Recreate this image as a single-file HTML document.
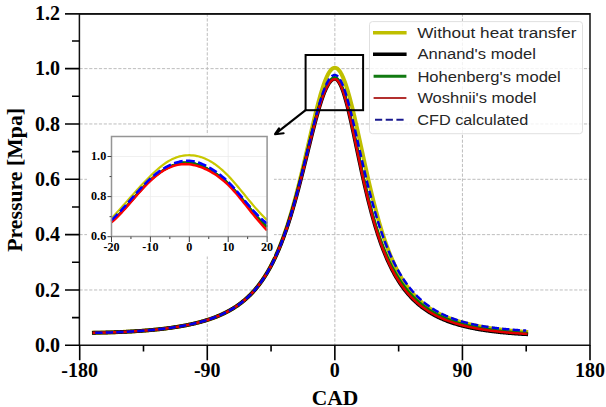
<!DOCTYPE html><html><head><meta charset="utf-8"><style>html,body{margin:0;padding:0;background:#fff;}svg{display:block}</style></head><body>
<svg width="606" height="407" viewBox="0 0 606 407">
<rect width="606" height="407" fill="#fff"/>
<path d="M79.5,289.97H590 M79.5,234.63H590 M79.5,179.30H590 M79.5,123.96H590 M79.5,68.63H590 M207.28,13.5V345.3 M334.85,13.5V345.3 M462.43,13.5V345.3" stroke="#bdbdbd" stroke-width="1" stroke-dasharray="3.2,1.65" fill="none"/>
<g fill="none" stroke-linejoin="round" stroke-linecap="square">
<path d="M93.88,332.74 L94.58,332.73 L95.29,332.72 L96.00,332.71 L96.71,332.70 L97.42,332.69 L98.13,332.67 L98.84,332.66 L99.55,332.65 L100.25,332.63 L100.96,332.62 L101.67,332.60 L102.38,332.59 L103.09,332.57 L103.80,332.56 L104.51,332.54 L105.22,332.52 L105.92,332.50 L106.63,332.48 L107.34,332.47 L108.05,332.45 L108.76,332.43 L109.47,332.41 L110.18,332.38 L110.89,332.36 L111.59,332.34 L112.30,332.32 L113.01,332.29 L113.72,332.27 L114.43,332.24 L115.14,332.22 L115.85,332.19 L116.56,332.17 L117.26,332.14 L117.97,332.11 L118.68,332.08 L119.39,332.06 L120.10,332.03 L120.81,332.00 L121.52,331.97 L122.23,331.93 L122.93,331.90 L123.64,331.87 L124.35,331.84 L125.06,331.80 L125.77,331.77 L126.48,331.73 L127.19,331.70 L127.90,331.66 L128.60,331.62 L129.31,331.59 L130.02,331.55 L130.73,331.51 L131.44,331.47 L132.15,331.43 L132.86,331.38 L133.57,331.34 L134.27,331.30 L134.98,331.26 L135.69,331.21 L136.40,331.17 L137.11,331.12 L137.82,331.07 L138.53,331.03 L139.24,330.98 L139.94,330.93 L140.65,330.88 L141.36,330.83 L142.07,330.77 L142.78,330.72 L143.49,330.67 L144.20,330.61 L144.91,330.56 L145.61,330.50 L146.32,330.45 L147.03,330.39 L147.74,330.33 L148.45,330.27 L149.16,330.21 L149.87,330.15 L150.58,330.08 L151.28,330.02 L151.99,329.95 L152.70,329.89 L153.41,329.82 L154.12,329.75 L154.83,329.68 L155.54,329.61 L156.25,329.54 L156.95,329.47 L157.66,329.40 L158.37,329.32 L159.08,329.25 L159.79,329.17 L160.50,329.09 L161.21,329.01 L161.92,328.93 L162.62,328.85 L163.33,328.77 L164.04,328.68 L164.75,328.59 L165.46,328.51 L166.17,328.42 L166.88,328.33 L167.59,328.24 L168.29,328.14 L169.00,328.05 L169.71,327.96 L170.42,327.86 L171.13,327.76 L171.84,327.66 L172.55,327.56 L173.26,327.45 L173.96,327.35 L174.67,327.24 L175.38,327.13 L176.09,327.02 L176.80,326.91 L177.51,326.80 L178.22,326.68 L178.93,326.57 L179.63,326.45 L180.34,326.33 L181.05,326.21 L181.76,326.08 L182.47,325.95 L183.18,325.83 L183.89,325.70 L184.60,325.56 L185.30,325.43 L186.01,325.29 L186.72,325.15 L187.43,325.01 L188.14,324.87 L188.85,324.72 L189.56,324.57 L190.27,324.42 L190.97,324.27 L191.68,324.11 L192.39,323.96 L193.10,323.80 L193.81,323.63 L194.52,323.47 L195.23,323.30 L195.94,323.13 L196.64,322.95 L197.35,322.78 L198.06,322.60 L198.77,322.41 L199.48,322.23 L200.19,322.04 L200.90,321.85 L201.61,321.65 L202.31,321.45 L203.02,321.25 L203.73,321.05 L204.44,320.84 L205.15,320.63 L205.86,320.41 L206.57,320.19 L207.28,319.97 L207.98,319.74 L208.69,319.51 L209.40,319.27 L210.11,319.03 L210.82,318.79 L211.53,318.54 L212.24,318.29 L212.95,318.04 L213.65,317.77 L214.36,317.51 L215.07,317.24 L215.78,316.96 L216.49,316.68 L217.20,316.40 L217.91,316.11 L218.62,315.81 L219.32,315.51 L220.03,315.21 L220.74,314.89 L221.45,314.58 L222.16,314.25 L222.87,313.92 L223.58,313.59 L224.29,313.25 L224.99,312.90 L225.70,312.54 L226.41,312.18 L227.12,311.82 L227.83,311.44 L228.54,311.06 L229.25,310.67 L229.96,310.27 L230.66,309.87 L231.37,309.45 L232.08,309.03 L232.79,308.60 L233.50,308.17 L234.21,307.72 L234.92,307.27 L235.63,306.80 L236.33,306.33 L237.04,305.85 L237.75,305.36 L238.46,304.86 L239.17,304.34 L239.88,303.82 L240.59,303.29 L241.30,302.74 L242.00,302.19 L242.71,301.62 L243.42,301.05 L244.13,300.46 L244.84,299.85 L245.55,299.24 L246.26,298.61 L246.97,297.97 L247.67,297.32 L248.38,296.65 L249.09,295.97 L249.80,295.27 L250.51,294.56 L251.22,293.83 L251.93,293.09 L252.64,292.33 L253.34,291.55 L254.05,290.76 L254.76,289.95 L255.47,289.13 L256.18,288.28 L256.89,287.42 L257.60,286.54 L258.31,285.63 L259.01,284.71 L259.72,283.77 L260.43,282.81 L261.14,281.82 L261.85,280.82 L262.56,279.79 L263.27,278.74 L263.98,277.66 L264.68,276.57 L265.39,275.44 L266.10,274.30 L266.81,273.12 L267.52,271.92 L268.23,270.69 L268.94,269.44 L269.65,268.16 L270.35,266.85 L271.06,265.51 L271.77,264.14 L272.48,262.74 L273.19,261.31 L273.90,259.84 L274.61,258.35 L275.32,256.82 L276.02,255.26 L276.73,253.66 L277.44,252.03 L278.15,250.37 L278.86,248.66 L279.57,246.93 L280.28,245.15 L280.99,243.34 L281.69,241.49 L282.40,239.60 L283.11,237.67 L283.82,235.70 L284.53,233.69 L285.24,231.65 L285.95,229.56 L286.66,227.43 L287.36,225.26 L288.07,223.04 L288.78,220.79 L289.49,218.50 L290.20,216.16 L290.91,213.78 L291.62,211.36 L292.33,208.90 L293.03,206.40 L293.74,203.85 L294.45,201.27 L295.16,198.65 L295.87,195.98 L296.58,193.28 L297.29,190.55 L298.00,187.77 L298.70,184.97 L299.41,182.12 L300.12,179.25 L300.83,176.34 L301.54,173.41 L302.25,170.45 L302.96,167.46 L303.67,164.46 L304.37,161.43 L305.08,158.38 L305.79,155.32 L306.50,152.25 L307.21,149.16 L307.92,146.08 L308.63,142.99 L309.34,139.90 L310.04,136.81 L310.75,133.74 L311.46,130.67 L312.17,127.63 L312.88,124.61 L313.59,121.61 L314.30,118.65 L315.00,115.72 L315.71,112.83 L316.42,109.98 L317.13,107.19 L317.84,104.45 L318.55,101.78 L319.26,99.17 L319.97,96.63 L320.68,94.17 L321.38,91.79 L322.09,89.49 L322.80,87.29 L323.51,85.18 L324.22,83.17 L324.93,81.27 L325.64,79.48 L326.35,77.81 L327.05,76.25 L327.76,74.82 L328.47,73.51 L329.18,72.32 L329.89,71.28 L330.60,70.36 L331.31,69.58 L332.02,68.94 L332.72,68.44 L333.43,68.09 L334.14,67.87 L334.85,67.80 L335.56,67.87 L336.27,68.10 L336.98,68.46 L337.69,68.98 L338.39,69.64 L339.10,70.44 L339.81,71.39 L340.52,72.47 L341.23,73.69 L341.94,75.05 L342.65,76.54 L343.36,78.15 L344.06,79.89 L344.77,81.75 L345.48,83.73 L346.19,85.82 L346.90,88.01 L347.61,90.31 L348.32,92.70 L349.03,95.19 L349.73,97.77 L350.44,100.43 L351.15,103.17 L351.86,105.97 L352.57,108.85 L353.28,111.79 L353.99,114.78 L354.70,117.82 L355.40,120.91 L356.11,124.04 L356.82,127.20 L357.53,130.40 L358.24,133.61 L358.95,136.85 L359.66,140.10 L360.37,143.37 L361.07,146.64 L361.78,149.91 L362.49,153.18 L363.20,156.44 L363.91,159.69 L364.62,162.93 L365.33,166.15 L366.04,169.35 L366.74,172.53 L367.45,175.69 L368.16,178.81 L368.87,181.90 L369.58,184.96 L370.29,187.99 L371.00,190.98 L371.71,193.93 L372.41,196.84 L373.12,199.70 L373.83,202.53 L374.54,205.31 L375.25,208.04 L375.96,210.73 L376.67,213.38 L377.38,215.97 L378.08,218.52 L378.79,221.03 L379.50,223.48 L380.21,225.89 L380.92,228.25 L381.63,230.56 L382.34,232.82 L383.05,235.04 L383.75,237.21 L384.46,239.33 L385.17,241.41 L385.88,243.44 L386.59,245.42 L387.30,247.36 L388.01,249.26 L388.72,251.12 L389.42,252.93 L390.13,254.70 L390.84,256.43 L391.55,258.11 L392.26,259.76 L392.97,261.37 L393.68,262.94 L394.38,264.47 L395.09,265.97 L395.80,267.43 L396.51,268.85 L397.22,270.24 L397.93,271.60 L398.64,272.92 L399.35,274.22 L400.06,275.48 L400.76,276.71 L401.47,277.91 L402.18,279.08 L402.89,280.22 L403.60,281.33 L404.31,282.42 L405.02,283.48 L405.73,284.52 L406.43,285.53 L407.14,286.51 L407.85,287.48 L408.56,288.42 L409.27,289.33 L409.98,290.23 L410.69,291.10 L411.40,291.95 L412.10,292.79 L412.81,293.60 L413.52,294.39 L414.23,295.17 L414.94,295.93 L415.65,296.67 L416.36,297.39 L417.07,298.09 L417.77,298.78 L418.48,299.46 L419.19,300.11 L419.90,300.76 L420.61,301.39 L421.32,302.00 L422.03,302.60 L422.74,303.19 L423.44,303.76 L424.15,304.33 L424.86,304.88 L425.57,305.41 L426.28,305.94 L426.99,306.45 L427.70,306.96 L428.41,307.45 L429.11,307.93 L429.82,308.40 L430.53,308.86 L431.24,309.32 L431.95,309.76 L432.66,310.19 L433.37,310.62 L434.08,311.03 L434.78,311.44 L435.49,311.84 L436.20,312.23 L436.91,312.61 L437.62,312.99 L438.33,313.36 L439.04,313.72 L439.75,314.07 L440.45,314.42 L441.16,314.76 L441.87,315.09 L442.58,315.42 L443.29,315.74 L444.00,316.05 L444.71,316.36 L445.42,316.66 L446.12,316.96 L446.83,317.25 L447.54,317.54 L448.25,317.82 L448.96,318.09 L449.67,318.36 L450.38,318.63 L451.09,318.89 L451.79,319.15 L452.50,319.40 L453.21,319.65 L453.92,319.89 L454.63,320.13 L455.34,320.36 L456.05,320.59 L456.75,320.82 L457.46,321.04 L458.17,321.26 L458.88,321.48 L459.59,321.69 L460.30,321.89 L461.01,322.10 L461.72,322.30 L462.43,322.50 L463.13,322.69 L463.84,322.88 L464.55,323.07 L465.26,323.25 L465.97,323.43 L466.68,323.61 L467.39,323.79 L468.10,323.96 L468.80,324.13 L469.51,324.30 L470.22,324.46 L470.93,324.63 L471.64,324.79 L472.35,324.94 L473.06,325.10 L473.76,325.25 L474.47,325.40 L475.18,325.55 L475.89,325.69 L476.60,325.83 L477.31,325.97 L478.02,326.11 L478.73,326.25 L479.44,326.38 L480.14,326.51 L480.85,326.64 L481.56,326.77 L482.27,326.90 L482.98,327.02 L483.69,327.15 L484.40,327.27 L485.11,327.38 L485.81,327.50 L486.52,327.62 L487.23,327.73 L487.94,327.84 L488.65,327.95 L489.36,328.06 L490.07,328.17 L490.78,328.27 L491.48,328.38 L492.19,328.48 L492.90,328.58 L493.61,328.68 L494.32,328.78 L495.03,328.87 L495.74,328.97 L496.45,329.06 L497.15,329.15 L497.86,329.24 L498.57,329.33 L499.28,329.42 L499.99,329.51 L500.70,329.59 L501.41,329.68 L502.12,329.76 L502.82,329.84 L503.53,329.92 L504.24,330.00 L504.95,330.08 L505.66,330.16 L506.37,330.23 L507.08,330.31 L507.79,330.38 L508.49,330.45 L509.20,330.53 L509.91,330.60 L510.62,330.67 L511.33,330.73 L512.04,330.80 L512.75,330.87 L513.46,330.93 L514.16,331.00 L514.87,331.06 L515.58,331.12 L516.29,331.19 L517.00,331.25 L517.71,331.31 L518.42,331.37 L519.12,331.42 L519.83,331.48 L520.54,331.54 L521.25,331.59 L521.96,331.65 L522.67,331.70 L523.38,331.75 L524.09,331.81 L524.80,331.86 L525.50,331.91 L526.21,331.96" stroke="#bfbf00" stroke-width="4"/>
<path d="M93.88,332.76 L94.58,332.75 L95.29,332.73 L96.00,332.72 L96.71,332.71 L97.42,332.70 L98.13,332.69 L98.84,332.68 L99.55,332.66 L100.25,332.65 L100.96,332.63 L101.67,332.62 L102.38,332.60 L103.09,332.59 L103.80,332.57 L104.51,332.55 L105.22,332.54 L105.92,332.52 L106.63,332.50 L107.34,332.48 L108.05,332.46 L108.76,332.44 L109.47,332.42 L110.18,332.40 L110.89,332.38 L111.59,332.35 L112.30,332.33 L113.01,332.31 L113.72,332.28 L114.43,332.26 L115.14,332.23 L115.85,332.21 L116.56,332.18 L117.26,332.15 L117.97,332.13 L118.68,332.10 L119.39,332.07 L120.10,332.04 L120.81,332.01 L121.52,331.98 L122.23,331.95 L122.93,331.92 L123.64,331.88 L124.35,331.85 L125.06,331.82 L125.77,331.78 L126.48,331.75 L127.19,331.71 L127.90,331.67 L128.60,331.64 L129.31,331.60 L130.02,331.56 L130.73,331.52 L131.44,331.48 L132.15,331.44 L132.86,331.40 L133.57,331.35 L134.27,331.31 L134.98,331.27 L135.69,331.22 L136.40,331.18 L137.11,331.13 L137.82,331.08 L138.53,331.04 L139.24,330.99 L139.94,330.94 L140.65,330.89 L141.36,330.84 L142.07,330.79 L142.78,330.73 L143.49,330.68 L144.20,330.62 L144.91,330.57 L145.61,330.51 L146.32,330.45 L147.03,330.40 L147.74,330.34 L148.45,330.28 L149.16,330.22 L149.87,330.15 L150.58,330.09 L151.28,330.03 L151.99,329.96 L152.70,329.90 L153.41,329.83 L154.12,329.76 L154.83,329.69 L155.54,329.62 L156.25,329.55 L156.95,329.48 L157.66,329.40 L158.37,329.33 L159.08,329.25 L159.79,329.17 L160.50,329.10 L161.21,329.02 L161.92,328.94 L162.62,328.85 L163.33,328.77 L164.04,328.69 L164.75,328.60 L165.46,328.51 L166.17,328.42 L166.88,328.33 L167.59,328.24 L168.29,328.15 L169.00,328.05 L169.71,327.96 L170.42,327.86 L171.13,327.76 L171.84,327.66 L172.55,327.56 L173.26,327.46 L173.96,327.35 L174.67,327.24 L175.38,327.13 L176.09,327.02 L176.80,326.91 L177.51,326.80 L178.22,326.68 L178.93,326.57 L179.63,326.45 L180.34,326.33 L181.05,326.20 L181.76,326.08 L182.47,325.95 L183.18,325.82 L183.89,325.69 L184.60,325.56 L185.30,325.42 L186.01,325.29 L186.72,325.15 L187.43,325.01 L188.14,324.86 L188.85,324.72 L189.56,324.57 L190.27,324.42 L190.97,324.26 L191.68,324.11 L192.39,323.95 L193.10,323.79 L193.81,323.62 L194.52,323.46 L195.23,323.29 L195.94,323.12 L196.64,322.94 L197.35,322.77 L198.06,322.59 L198.77,322.40 L199.48,322.22 L200.19,322.03 L200.90,321.83 L201.61,321.64 L202.31,321.44 L203.02,321.24 L203.73,321.03 L204.44,320.82 L205.15,320.61 L205.86,320.39 L206.57,320.17 L207.28,319.95 L207.98,319.72 L208.69,319.49 L209.40,319.25 L210.11,319.02 L210.82,318.77 L211.53,318.52 L212.24,318.27 L212.95,318.01 L213.65,317.75 L214.36,317.49 L215.07,317.22 L215.78,316.94 L216.49,316.66 L217.20,316.38 L217.91,316.08 L218.62,315.79 L219.32,315.49 L220.03,315.18 L220.74,314.87 L221.45,314.55 L222.16,314.23 L222.87,313.90 L223.58,313.56 L224.29,313.22 L224.99,312.87 L225.70,312.52 L226.41,312.16 L227.12,311.79 L227.83,311.41 L228.54,311.03 L229.25,310.64 L229.96,310.24 L230.66,309.84 L231.37,309.42 L232.08,309.00 L232.79,308.58 L233.50,308.14 L234.21,307.69 L234.92,307.24 L235.63,306.78 L236.33,306.30 L237.04,305.82 L237.75,305.33 L238.46,304.83 L239.17,304.32 L239.88,303.80 L240.59,303.26 L241.30,302.72 L242.00,302.17 L242.71,301.60 L243.42,301.03 L244.13,300.44 L244.84,299.84 L245.55,299.22 L246.26,298.60 L246.97,297.96 L247.67,297.31 L248.38,296.64 L249.09,295.96 L249.80,295.27 L250.51,294.56 L251.22,293.84 L251.93,293.10 L252.64,292.34 L253.34,291.57 L254.05,290.78 L254.76,289.98 L255.47,289.16 L256.18,288.32 L256.89,287.46 L257.60,286.59 L258.31,285.69 L259.01,284.78 L259.72,283.84 L260.43,282.89 L261.14,281.91 L261.85,280.92 L262.56,279.90 L263.27,278.86 L263.98,277.79 L264.68,276.71 L265.39,275.60 L266.10,274.46 L266.81,273.30 L267.52,272.12 L268.23,270.91 L268.94,269.67 L269.65,268.41 L270.35,267.11 L271.06,265.79 L271.77,264.45 L272.48,263.07 L273.19,261.66 L273.90,260.22 L274.61,258.75 L275.32,257.25 L276.02,255.72 L276.73,254.16 L277.44,252.56 L278.15,250.93 L278.86,249.26 L279.57,247.57 L280.28,245.83 L280.99,244.06 L281.69,242.26 L282.40,240.41 L283.11,238.54 L283.82,236.62 L284.53,234.67 L285.24,232.68 L285.95,230.65 L286.66,228.58 L287.36,226.48 L288.07,224.34 L288.78,222.16 L289.49,219.94 L290.20,217.68 L290.91,215.39 L291.62,213.06 L292.33,210.69 L293.03,208.28 L293.74,205.84 L294.45,203.36 L295.16,200.85 L295.87,198.30 L296.58,195.72 L297.29,193.10 L298.00,190.46 L298.70,187.78 L299.41,185.07 L300.12,182.34 L300.83,179.58 L301.54,176.80 L302.25,174.00 L302.96,171.17 L303.67,168.33 L304.37,165.47 L305.08,162.60 L305.79,159.72 L306.50,156.83 L307.21,153.93 L307.92,151.04 L308.63,148.14 L309.34,145.25 L310.04,142.37 L310.75,139.50 L311.46,136.65 L312.17,133.82 L312.88,131.01 L313.59,128.23 L314.30,125.48 L315.00,122.77 L315.71,120.09 L316.42,117.47 L317.13,114.89 L317.84,112.37 L318.55,109.90 L319.26,107.50 L319.97,105.17 L320.68,102.91 L321.38,100.73 L322.09,98.63 L322.80,96.61 L323.51,94.69 L324.22,92.86 L324.93,91.12 L325.64,89.49 L326.35,87.96 L327.05,86.55 L327.76,85.24 L328.47,84.05 L329.18,82.97 L329.89,82.02 L330.60,81.19 L331.31,80.48 L332.02,79.90 L332.72,79.45 L333.43,79.13 L334.14,78.93 L334.85,78.87 L335.56,78.96 L336.27,79.25 L336.98,79.74 L337.69,80.41 L338.39,81.27 L339.10,82.31 L339.81,83.54 L340.52,84.94 L341.23,86.51 L341.94,88.24 L342.65,90.13 L343.36,92.17 L344.06,94.35 L344.77,96.67 L345.48,99.12 L346.19,101.69 L346.90,104.37 L347.61,107.15 L348.32,110.02 L349.03,112.98 L349.73,116.02 L350.44,119.13 L351.15,122.30 L351.86,125.52 L352.57,128.78 L353.28,132.08 L353.99,135.41 L354.70,138.77 L355.40,142.14 L356.11,145.52 L356.82,148.91 L357.53,152.29 L358.24,155.66 L358.95,159.03 L359.66,162.37 L360.37,165.70 L361.07,169.00 L361.78,172.27 L362.49,175.51 L363.20,178.71 L363.91,181.88 L364.62,185.00 L365.33,188.09 L366.04,191.13 L366.74,194.12 L367.45,197.07 L368.16,199.97 L368.87,202.81 L369.58,205.61 L370.29,208.36 L371.00,211.06 L371.71,213.71 L372.41,216.30 L373.12,218.85 L373.83,221.34 L374.54,223.78 L375.25,226.17 L375.96,228.51 L376.67,230.80 L377.38,233.04 L378.08,235.24 L378.79,237.38 L379.50,239.48 L380.21,241.53 L380.92,243.54 L381.63,245.50 L382.34,247.41 L383.05,249.28 L383.75,251.11 L384.46,252.90 L385.17,254.65 L385.88,256.35 L386.59,258.02 L387.30,259.65 L388.01,261.24 L388.72,262.79 L389.42,264.31 L390.13,265.80 L390.84,267.25 L391.55,268.66 L392.26,270.05 L392.97,271.40 L393.68,272.72 L394.38,274.01 L395.09,275.27 L395.80,276.51 L396.51,277.71 L397.22,278.89 L397.93,280.04 L398.64,281.16 L399.35,282.26 L400.06,283.34 L400.76,284.39 L401.47,285.41 L402.18,286.42 L402.89,287.40 L403.60,288.36 L404.31,289.30 L405.02,290.21 L405.73,291.11 L406.43,291.99 L407.14,292.85 L407.85,293.69 L408.56,294.51 L409.27,295.31 L409.98,296.10 L410.69,296.87 L411.40,297.62 L412.10,298.36 L412.81,299.08 L413.52,299.79 L414.23,300.48 L414.94,301.16 L415.65,301.82 L416.36,302.47 L417.07,303.10 L417.77,303.72 L418.48,304.33 L419.19,304.93 L419.90,305.51 L420.61,306.08 L421.32,306.64 L422.03,307.19 L422.74,307.73 L423.44,308.26 L424.15,308.77 L424.86,309.28 L425.57,309.77 L426.28,310.26 L426.99,310.73 L427.70,311.20 L428.41,311.66 L429.11,312.10 L429.82,312.54 L430.53,312.97 L431.24,313.40 L431.95,313.81 L432.66,314.21 L433.37,314.61 L434.08,315.00 L434.78,315.38 L435.49,315.76 L436.20,316.13 L436.91,316.49 L437.62,316.84 L438.33,317.19 L439.04,317.53 L439.75,317.86 L440.45,318.19 L441.16,318.51 L441.87,318.82 L442.58,319.13 L443.29,319.43 L444.00,319.73 L444.71,320.02 L445.42,320.31 L446.12,320.59 L446.83,320.87 L447.54,321.14 L448.25,321.40 L448.96,321.66 L449.67,321.92 L450.38,322.17 L451.09,322.42 L451.79,322.66 L452.50,322.90 L453.21,323.13 L453.92,323.36 L454.63,323.59 L455.34,323.81 L456.05,324.02 L456.75,324.24 L457.46,324.45 L458.17,324.65 L458.88,324.85 L459.59,325.05 L460.30,325.25 L461.01,325.44 L461.72,325.63 L462.43,325.81 L463.13,325.99 L463.84,326.17 L464.55,326.35 L465.26,326.52 L465.97,326.69 L466.68,326.85 L467.39,327.02 L468.10,327.18 L468.80,327.33 L469.51,327.49 L470.22,327.64 L470.93,327.79 L471.64,327.94 L472.35,328.08 L473.06,328.22 L473.76,328.36 L474.47,328.50 L475.18,328.64 L475.89,328.77 L476.60,328.90 L477.31,329.03 L478.02,329.15 L478.73,329.28 L479.44,329.40 L480.14,329.52 L480.85,329.64 L481.56,329.75 L482.27,329.87 L482.98,329.98 L483.69,330.09 L484.40,330.20 L485.11,330.30 L485.81,330.41 L486.52,330.51 L487.23,330.61 L487.94,330.71 L488.65,330.81 L489.36,330.90 L490.07,331.00 L490.78,331.09 L491.48,331.18 L492.19,331.27 L492.90,331.36 L493.61,331.45 L494.32,331.54 L495.03,331.62 L495.74,331.70 L496.45,331.78 L497.15,331.87 L497.86,331.94 L498.57,332.02 L499.28,332.10 L499.99,332.17 L500.70,332.25 L501.41,332.32 L502.12,332.39 L502.82,332.46 L503.53,332.53 L504.24,332.60 L504.95,332.67 L505.66,332.73 L506.37,332.80 L507.08,332.86 L507.79,332.92 L508.49,332.99 L509.20,333.05 L509.91,333.11 L510.62,333.16 L511.33,333.22 L512.04,333.28 L512.75,333.34 L513.46,333.39 L514.16,333.44 L514.87,333.50 L515.58,333.55 L516.29,333.60 L517.00,333.65 L517.71,333.70 L518.42,333.75 L519.12,333.80 L519.83,333.85 L520.54,333.89 L521.25,333.94 L521.96,333.98 L522.67,334.03 L523.38,334.07 L524.09,334.12 L524.80,334.16 L525.50,334.20 L526.21,334.24" stroke="#000" stroke-width="3.8"/>
<path d="M93.88,332.78 L94.58,332.77 L95.29,332.76 L96.00,332.75 L96.71,332.74 L97.42,332.73 L98.13,332.71 L98.84,332.70 L99.55,332.69 L100.25,332.67 L100.96,332.66 L101.67,332.64 L102.38,332.63 L103.09,332.61 L103.80,332.59 L104.51,332.58 L105.22,332.56 L105.92,332.54 L106.63,332.52 L107.34,332.50 L108.05,332.48 L108.76,332.46 L109.47,332.44 L110.18,332.42 L110.89,332.40 L111.59,332.38 L112.30,332.35 L113.01,332.33 L113.72,332.30 L114.43,332.28 L115.14,332.25 L115.85,332.23 L116.56,332.20 L117.26,332.17 L117.97,332.14 L118.68,332.12 L119.39,332.09 L120.10,332.06 L120.81,332.03 L121.52,332.00 L122.23,331.96 L122.93,331.93 L123.64,331.90 L124.35,331.87 L125.06,331.83 L125.77,331.80 L126.48,331.76 L127.19,331.72 L127.90,331.69 L128.60,331.65 L129.31,331.61 L130.02,331.57 L130.73,331.53 L131.44,331.49 L132.15,331.45 L132.86,331.41 L133.57,331.37 L134.27,331.32 L134.98,331.28 L135.69,331.23 L136.40,331.19 L137.11,331.14 L137.82,331.09 L138.53,331.04 L139.24,331.00 L139.94,330.95 L140.65,330.89 L141.36,330.84 L142.07,330.79 L142.78,330.74 L143.49,330.68 L144.20,330.63 L144.91,330.57 L145.61,330.52 L146.32,330.46 L147.03,330.40 L147.74,330.34 L148.45,330.28 L149.16,330.22 L149.87,330.15 L150.58,330.09 L151.28,330.03 L151.99,329.96 L152.70,329.89 L153.41,329.83 L154.12,329.76 L154.83,329.69 L155.54,329.62 L156.25,329.55 L156.95,329.47 L157.66,329.40 L158.37,329.32 L159.08,329.25 L159.79,329.17 L160.50,329.09 L161.21,329.01 L161.92,328.93 L162.62,328.85 L163.33,328.76 L164.04,328.68 L164.75,328.59 L165.46,328.50 L166.17,328.41 L166.88,328.32 L167.59,328.23 L168.29,328.14 L169.00,328.04 L169.71,327.94 L170.42,327.85 L171.13,327.75 L171.84,327.65 L172.55,327.54 L173.26,327.44 L173.96,327.33 L174.67,327.23 L175.38,327.12 L176.09,327.01 L176.80,326.90 L177.51,326.78 L178.22,326.67 L178.93,326.55 L179.63,326.43 L180.34,326.31 L181.05,326.18 L181.76,326.06 L182.47,325.93 L183.18,325.80 L183.89,325.67 L184.60,325.54 L185.30,325.40 L186.01,325.27 L186.72,325.13 L187.43,324.98 L188.14,324.84 L188.85,324.69 L189.56,324.55 L190.27,324.39 L190.97,324.24 L191.68,324.08 L192.39,323.93 L193.10,323.77 L193.81,323.60 L194.52,323.44 L195.23,323.27 L195.94,323.10 L196.64,322.92 L197.35,322.74 L198.06,322.56 L198.77,322.38 L199.48,322.19 L200.19,322.00 L200.90,321.81 L201.61,321.62 L202.31,321.42 L203.02,321.22 L203.73,321.01 L204.44,320.80 L205.15,320.59 L205.86,320.37 L206.57,320.15 L207.28,319.93 L207.98,319.70 L208.69,319.47 L209.40,319.24 L210.11,319.00 L210.82,318.75 L211.53,318.51 L212.24,318.25 L212.95,318.00 L213.65,317.74 L214.36,317.47 L215.07,317.20 L215.78,316.93 L216.49,316.65 L217.20,316.36 L217.91,316.07 L218.62,315.78 L219.32,315.48 L220.03,315.17 L220.74,314.86 L221.45,314.55 L222.16,314.22 L222.87,313.89 L223.58,313.56 L224.29,313.22 L224.99,312.87 L225.70,312.52 L226.41,312.16 L227.12,311.79 L227.83,311.42 L228.54,311.03 L229.25,310.65 L229.96,310.25 L230.66,309.85 L231.37,309.44 L232.08,309.02 L232.79,308.59 L233.50,308.15 L234.21,307.71 L234.92,307.26 L235.63,306.80 L236.33,306.33 L237.04,305.85 L237.75,305.36 L238.46,304.86 L239.17,304.35 L239.88,303.83 L240.59,303.30 L241.30,302.75 L242.00,302.20 L242.71,301.64 L243.42,301.06 L244.13,300.48 L244.84,299.88 L245.55,299.27 L246.26,298.64 L246.97,298.00 L247.67,297.35 L248.38,296.69 L249.09,296.01 L249.80,295.32 L250.51,294.61 L251.22,293.89 L251.93,293.15 L252.64,292.40 L253.34,291.63 L254.05,290.84 L254.76,290.04 L255.47,289.21 L256.18,288.38 L256.89,287.52 L257.60,286.64 L258.31,285.75 L259.01,284.83 L259.72,283.90 L260.43,282.94 L261.14,281.97 L261.85,280.97 L262.56,279.95 L263.27,278.90 L263.98,277.84 L264.68,276.75 L265.39,275.64 L266.10,274.50 L266.81,273.34 L267.52,272.15 L268.23,270.93 L268.94,269.69 L269.65,268.42 L270.35,267.12 L271.06,265.80 L271.77,264.44 L272.48,263.06 L273.19,261.64 L273.90,260.20 L274.61,258.72 L275.32,257.21 L276.02,255.67 L276.73,254.10 L277.44,252.49 L278.15,250.85 L278.86,249.17 L279.57,247.46 L280.28,245.71 L280.99,243.92 L281.69,242.10 L282.40,240.25 L283.11,238.35 L283.82,236.42 L284.53,234.45 L285.24,232.44 L285.95,230.39 L286.66,228.31 L287.36,226.18 L288.07,224.02 L288.78,221.82 L289.49,219.58 L290.20,217.30 L290.91,214.98 L291.62,212.62 L292.33,210.23 L293.03,207.79 L293.74,205.32 L294.45,202.82 L295.16,200.27 L295.87,197.70 L296.58,195.08 L297.29,192.44 L298.00,189.76 L298.70,187.05 L299.41,184.32 L300.12,181.55 L300.83,178.76 L301.54,175.95 L302.25,173.11 L302.96,170.25 L303.67,167.38 L304.37,164.49 L305.08,161.58 L305.79,158.67 L306.50,155.75 L307.21,152.82 L307.92,149.90 L308.63,146.97 L309.34,144.05 L310.04,141.14 L310.75,138.25 L311.46,135.37 L312.17,132.51 L312.88,129.67 L313.59,126.86 L314.30,124.09 L315.00,121.36 L315.71,118.66 L316.42,116.02 L317.13,113.42 L317.84,110.88 L318.55,108.40 L319.26,105.98 L319.97,103.63 L320.68,101.36 L321.38,99.17 L322.09,97.05 L322.80,95.03 L323.51,93.09 L324.22,91.25 L324.93,89.51 L325.64,87.87 L326.35,86.33 L327.05,84.91 L327.76,83.60 L328.47,82.40 L329.18,81.33 L329.89,80.37 L330.60,79.54 L331.31,78.83 L332.02,78.25 L332.72,77.79 L333.43,77.47 L334.14,77.27 L334.85,77.21 L335.56,77.30 L336.27,77.59 L336.98,78.06 L337.69,78.71 L338.39,79.56 L339.10,80.58 L339.81,81.78 L340.52,83.15 L341.23,84.68 L341.94,86.38 L342.65,88.23 L343.36,90.23 L344.06,92.37 L344.77,94.64 L345.48,97.04 L346.19,99.56 L346.90,102.19 L347.61,104.91 L348.32,107.74 L349.03,110.64 L349.73,113.63 L350.44,116.68 L351.15,119.79 L351.86,122.96 L352.57,126.17 L353.28,129.42 L353.99,132.70 L354.70,136.01 L355.40,139.33 L356.11,142.66 L356.82,146.00 L357.53,149.34 L358.24,152.67 L358.95,155.99 L359.66,159.30 L360.37,162.59 L361.07,165.85 L361.78,169.09 L362.49,172.29 L363.20,175.47 L363.91,178.60 L364.62,181.70 L365.33,184.76 L366.04,187.78 L366.74,190.75 L367.45,193.68 L368.16,196.56 L368.87,199.39 L369.58,202.17 L370.29,204.91 L371.00,207.59 L371.71,210.23 L372.41,212.81 L373.12,215.35 L373.83,217.84 L374.54,220.27 L375.25,222.66 L375.96,224.99 L376.67,227.28 L377.38,229.52 L378.08,231.71 L378.79,233.86 L379.50,235.96 L380.21,238.01 L380.92,240.02 L381.63,241.98 L382.34,243.90 L383.05,245.78 L383.75,247.61 L384.46,249.40 L385.17,251.16 L385.88,252.87 L386.59,254.55 L387.30,256.18 L388.01,257.78 L388.72,259.34 L389.42,260.87 L390.13,262.37 L390.84,263.83 L391.55,265.25 L392.26,266.65 L392.97,268.01 L393.68,269.34 L394.38,270.64 L395.09,271.92 L395.80,273.16 L396.51,274.38 L397.22,275.57 L397.93,276.73 L398.64,277.87 L399.35,278.98 L400.06,280.07 L400.76,281.13 L401.47,282.17 L402.18,283.19 L402.89,284.18 L403.60,285.16 L404.31,286.11 L405.02,287.04 L405.73,287.95 L406.43,288.85 L407.14,289.72 L407.85,290.58 L408.56,291.41 L409.27,292.23 L409.98,293.03 L410.69,293.82 L411.40,294.59 L412.10,295.34 L412.81,296.07 L413.52,296.80 L414.23,297.50 L414.94,298.19 L415.65,298.87 L416.36,299.54 L417.07,300.19 L417.77,300.82 L418.48,301.45 L419.19,302.06 L419.90,302.66 L420.61,303.24 L421.32,303.82 L422.03,304.38 L422.74,304.94 L423.44,305.48 L424.15,306.01 L424.86,306.53 L425.57,307.04 L426.28,307.54 L426.99,308.03 L427.70,308.52 L428.41,308.99 L429.11,309.45 L429.82,309.90 L430.53,310.35 L431.24,310.79 L431.95,311.21 L432.66,311.64 L433.37,312.05 L434.08,312.45 L434.78,312.85 L435.49,313.24 L436.20,313.62 L436.91,314.00 L437.62,314.36 L438.33,314.73 L439.04,315.08 L439.75,315.43 L440.45,315.77 L441.16,316.10 L441.87,316.43 L442.58,316.76 L443.29,317.07 L444.00,317.39 L444.71,317.69 L445.42,317.99 L446.12,318.29 L446.83,318.58 L447.54,318.86 L448.25,319.14 L448.96,319.41 L449.67,319.68 L450.38,319.95 L451.09,320.21 L451.79,320.46 L452.50,320.71 L453.21,320.96 L453.92,321.20 L454.63,321.44 L455.34,321.67 L456.05,321.90 L456.75,322.13 L457.46,322.35 L458.17,322.57 L458.88,322.78 L459.59,322.99 L460.30,323.20 L461.01,323.40 L461.72,323.60 L462.43,323.80 L463.13,323.99 L463.84,324.18 L464.55,324.37 L465.26,324.55 L465.97,324.73 L466.68,324.91 L467.39,325.08 L468.10,325.25 L468.80,325.42 L469.51,325.59 L470.22,325.75 L470.93,325.91 L471.64,326.07 L472.35,326.22 L473.06,326.38 L473.76,326.53 L474.47,326.67 L475.18,326.82 L475.89,326.96 L476.60,327.10 L477.31,327.24 L478.02,327.37 L478.73,327.51 L479.44,327.64 L480.14,327.77 L480.85,327.89 L481.56,328.02 L482.27,328.14 L482.98,328.26 L483.69,328.38 L484.40,328.50 L485.11,328.61 L485.81,328.72 L486.52,328.84 L487.23,328.95 L487.94,329.05 L488.65,329.16 L489.36,329.26 L490.07,329.37 L490.78,329.47 L491.48,329.57 L492.19,329.66 L492.90,329.76 L493.61,329.86 L494.32,329.95 L495.03,330.04 L495.74,330.13 L496.45,330.22 L497.15,330.31 L497.86,330.39 L498.57,330.48 L499.28,330.56 L499.99,330.64 L500.70,330.72 L501.41,330.80 L502.12,330.88 L502.82,330.96 L503.53,331.03 L504.24,331.11 L504.95,331.18 L505.66,331.25 L506.37,331.32 L507.08,331.39 L507.79,331.46 L508.49,331.53 L509.20,331.60 L509.91,331.66 L510.62,331.73 L511.33,331.79 L512.04,331.85 L512.75,331.91 L513.46,331.97 L514.16,332.03 L514.87,332.09 L515.58,332.15 L516.29,332.21 L517.00,332.26 L517.71,332.32 L518.42,332.37 L519.12,332.42 L519.83,332.47 L520.54,332.53 L521.25,332.58 L521.96,332.63 L522.67,332.67 L523.38,332.72 L524.09,332.77 L524.80,332.82 L525.50,332.86 L526.21,332.91" stroke="#008000" stroke-width="2.3"/>
<path d="M93.88,332.76 L94.58,332.75 L95.29,332.74 L96.00,332.73 L96.71,332.71 L97.42,332.70 L98.13,332.69 L98.84,332.68 L99.55,332.66 L100.25,332.65 L100.96,332.64 L101.67,332.62 L102.38,332.61 L103.09,332.59 L103.80,332.57 L104.51,332.56 L105.22,332.54 L105.92,332.52 L106.63,332.50 L107.34,332.48 L108.05,332.46 L108.76,332.44 L109.47,332.42 L110.18,332.40 L110.89,332.38 L111.59,332.36 L112.30,332.33 L113.01,332.31 L113.72,332.29 L114.43,332.26 L115.14,332.23 L115.85,332.21 L116.56,332.18 L117.26,332.16 L117.97,332.13 L118.68,332.10 L119.39,332.07 L120.10,332.04 L120.81,332.01 L121.52,331.98 L122.23,331.95 L122.93,331.92 L123.64,331.88 L124.35,331.85 L125.06,331.82 L125.77,331.78 L126.48,331.75 L127.19,331.71 L127.90,331.67 L128.60,331.64 L129.31,331.60 L130.02,331.56 L130.73,331.52 L131.44,331.48 L132.15,331.44 L132.86,331.40 L133.57,331.36 L134.27,331.31 L134.98,331.27 L135.69,331.22 L136.40,331.18 L137.11,331.13 L137.82,331.08 L138.53,331.04 L139.24,330.99 L139.94,330.94 L140.65,330.89 L141.36,330.84 L142.07,330.79 L142.78,330.73 L143.49,330.68 L144.20,330.62 L144.91,330.57 L145.61,330.51 L146.32,330.45 L147.03,330.40 L147.74,330.34 L148.45,330.28 L149.16,330.22 L149.87,330.15 L150.58,330.09 L151.28,330.03 L151.99,329.96 L152.70,329.90 L153.41,329.83 L154.12,329.76 L154.83,329.69 L155.54,329.62 L156.25,329.55 L156.95,329.48 L157.66,329.40 L158.37,329.33 L159.08,329.25 L159.79,329.17 L160.50,329.10 L161.21,329.02 L161.92,328.93 L162.62,328.85 L163.33,328.77 L164.04,328.68 L164.75,328.60 L165.46,328.51 L166.17,328.42 L166.88,328.33 L167.59,328.24 L168.29,328.15 L169.00,328.05 L169.71,327.96 L170.42,327.86 L171.13,327.76 L171.84,327.66 L172.55,327.56 L173.26,327.45 L173.96,327.35 L174.67,327.24 L175.38,327.13 L176.09,327.02 L176.80,326.91 L177.51,326.80 L178.22,326.68 L178.93,326.56 L179.63,326.45 L180.34,326.32 L181.05,326.20 L181.76,326.08 L182.47,325.95 L183.18,325.82 L183.89,325.69 L184.60,325.56 L185.30,325.42 L186.01,325.28 L186.72,325.15 L187.43,325.00 L188.14,324.86 L188.85,324.71 L189.56,324.57 L190.27,324.41 L190.97,324.26 L191.68,324.11 L192.39,323.95 L193.10,323.79 L193.81,323.62 L194.52,323.46 L195.23,323.29 L195.94,323.12 L196.64,322.94 L197.35,322.76 L198.06,322.58 L198.77,322.40 L199.48,322.21 L200.19,322.03 L200.90,321.83 L201.61,321.64 L202.31,321.44 L203.02,321.24 L203.73,321.03 L204.44,320.82 L205.15,320.61 L205.86,320.39 L206.57,320.17 L207.28,319.95 L207.98,319.72 L208.69,319.49 L209.40,319.25 L210.11,319.01 L210.82,318.77 L211.53,318.52 L212.24,318.27 L212.95,318.01 L213.65,317.75 L214.36,317.49 L215.07,317.22 L215.78,316.94 L216.49,316.66 L217.20,316.37 L217.91,316.08 L218.62,315.79 L219.32,315.49 L220.03,315.18 L220.74,314.87 L221.45,314.55 L222.16,314.23 L222.87,313.90 L223.58,313.56 L224.29,313.22 L224.99,312.87 L225.70,312.52 L226.41,312.16 L227.12,311.79 L227.83,311.41 L228.54,311.03 L229.25,310.64 L229.96,310.24 L230.66,309.84 L231.37,309.43 L232.08,309.01 L232.79,308.58 L233.50,308.14 L234.21,307.70 L234.92,307.24 L235.63,306.78 L236.33,306.31 L237.04,305.82 L237.75,305.33 L238.46,304.83 L239.17,304.32 L239.88,303.80 L240.59,303.27 L241.30,302.73 L242.00,302.17 L242.71,301.61 L243.42,301.03 L244.13,300.44 L244.84,299.84 L245.55,299.23 L246.26,298.60 L246.97,297.96 L247.67,297.31 L248.38,296.65 L249.09,295.97 L249.80,295.27 L250.51,294.56 L251.22,293.84 L251.93,293.10 L252.64,292.35 L253.34,291.58 L254.05,290.79 L254.76,289.98 L255.47,289.16 L256.18,288.32 L256.89,287.47 L257.60,286.59 L258.31,285.69 L259.01,284.78 L259.72,283.85 L260.43,282.89 L261.14,281.92 L261.85,280.92 L262.56,279.90 L263.27,278.86 L263.98,277.80 L264.68,276.71 L265.39,275.60 L266.10,274.46 L266.81,273.30 L267.52,272.12 L268.23,270.91 L268.94,269.67 L269.65,268.41 L270.35,267.11 L271.06,265.79 L271.77,264.44 L272.48,263.07 L273.19,261.66 L273.90,260.22 L274.61,258.75 L275.32,257.25 L276.02,255.72 L276.73,254.15 L277.44,252.55 L278.15,250.92 L278.86,249.26 L279.57,247.56 L280.28,245.82 L280.99,244.05 L281.69,242.24 L282.40,240.40 L283.11,238.52 L283.82,236.61 L284.53,234.65 L285.24,232.66 L285.95,230.64 L286.66,228.57 L287.36,226.47 L288.07,224.32 L288.78,222.14 L289.49,219.92 L290.20,217.67 L290.91,215.37 L291.62,213.04 L292.33,210.67 L293.03,208.27 L293.74,205.83 L294.45,203.35 L295.16,200.83 L295.87,198.29 L296.58,195.71 L297.29,193.09 L298.00,190.45 L298.70,187.77 L299.41,185.07 L300.12,182.34 L300.83,179.58 L301.54,176.80 L302.25,174.00 L302.96,171.18 L303.67,168.34 L304.37,165.48 L305.08,162.62 L305.79,159.74 L306.50,156.85 L307.21,153.97 L307.92,151.07 L308.63,148.19 L309.34,145.30 L310.04,142.43 L310.75,139.56 L311.46,136.72 L312.17,133.89 L312.88,131.09 L313.59,128.32 L314.30,125.57 L315.00,122.87 L315.71,120.21 L316.42,117.59 L317.13,115.02 L317.84,112.51 L318.55,110.05 L319.26,107.66 L319.97,105.34 L320.68,103.08 L321.38,100.91 L322.09,98.82 L322.80,96.81 L323.51,94.89 L324.22,93.07 L324.93,91.34 L325.64,89.72 L326.35,88.20 L327.05,86.79 L327.76,85.49 L328.47,84.30 L329.18,83.23 L329.89,82.28 L330.60,81.46 L331.31,80.75 L332.02,80.18 L332.72,79.72 L333.43,79.40 L334.14,79.21 L334.85,79.14 L335.56,79.24 L336.27,79.53 L336.98,80.01 L337.69,80.68 L338.39,81.54 L339.10,82.58 L339.81,83.80 L340.52,85.19 L341.23,86.75 L341.94,88.48 L342.65,90.37 L343.36,92.40 L344.06,94.58 L344.77,96.89 L345.48,99.33 L346.19,101.89 L346.90,104.56 L347.61,107.33 L348.32,110.20 L349.03,113.15 L349.73,116.18 L350.44,119.28 L351.15,122.44 L351.86,125.65 L352.57,128.91 L353.28,132.21 L353.99,135.53 L354.70,138.88 L355.40,142.24 L356.11,145.62 L356.82,149.00 L357.53,152.37 L358.24,155.74 L358.95,159.10 L359.66,162.44 L360.37,165.76 L361.07,169.06 L361.78,172.32 L362.49,175.56 L363.20,178.76 L363.91,181.92 L364.62,185.04 L365.33,188.12 L366.04,191.16 L366.74,194.15 L367.45,197.09 L368.16,199.98 L368.87,202.83 L369.58,205.62 L370.29,208.37 L371.00,211.06 L371.71,213.70 L372.41,216.29 L373.12,218.83 L373.83,221.32 L374.54,223.76 L375.25,226.15 L375.96,228.48 L376.67,230.77 L377.38,233.00 L378.08,235.19 L378.79,237.33 L379.50,239.42 L380.21,241.47 L380.92,243.47 L381.63,245.42 L382.34,247.33 L383.05,249.19 L383.75,251.02 L384.46,252.80 L385.17,254.54 L385.88,256.24 L386.59,257.90 L387.30,259.52 L388.01,261.10 L388.72,262.65 L389.42,264.16 L390.13,265.64 L390.84,267.08 L391.55,268.49 L392.26,269.87 L392.97,271.21 L393.68,272.53 L394.38,273.81 L395.09,275.06 L395.80,276.29 L396.51,277.49 L397.22,278.66 L397.93,279.80 L398.64,280.92 L399.35,282.01 L400.06,283.08 L400.76,284.12 L401.47,285.14 L402.18,286.14 L402.89,287.11 L403.60,288.06 L404.31,289.00 L405.02,289.91 L405.73,290.80 L406.43,291.67 L407.14,292.52 L407.85,293.36 L408.56,294.17 L409.27,294.97 L409.98,295.75 L410.69,296.52 L411.40,297.26 L412.10,297.99 L412.81,298.71 L413.52,299.41 L414.23,300.10 L414.94,300.77 L415.65,301.43 L416.36,302.07 L417.07,302.70 L417.77,303.32 L418.48,303.92 L419.19,304.51 L419.90,305.09 L420.61,305.66 L421.32,306.22 L422.03,306.76 L422.74,307.30 L423.44,307.82 L424.15,308.33 L424.86,308.83 L425.57,309.33 L426.28,309.81 L426.99,310.28 L427.70,310.74 L428.41,311.20 L429.11,311.64 L429.82,312.08 L430.53,312.51 L431.24,312.93 L431.95,313.34 L432.66,313.74 L433.37,314.14 L434.08,314.52 L434.78,314.91 L435.49,315.28 L436.20,315.64 L436.91,316.00 L437.62,316.36 L438.33,316.70 L439.04,317.04 L439.75,317.37 L440.45,317.70 L441.16,318.02 L441.87,318.33 L442.58,318.64 L443.29,318.94 L444.00,319.24 L444.71,319.53 L445.42,319.82 L446.12,320.10 L446.83,320.37 L447.54,320.64 L448.25,320.91 L448.96,321.17 L449.67,321.43 L450.38,321.68 L451.09,321.93 L451.79,322.17 L452.50,322.41 L453.21,322.64 L453.92,322.87 L454.63,323.10 L455.34,323.32 L456.05,323.53 L456.75,323.75 L457.46,323.96 L458.17,324.16 L458.88,324.37 L459.59,324.57 L460.30,324.76 L461.01,324.95 L461.72,325.14 L462.43,325.33 L463.13,325.51 L463.84,325.69 L464.55,325.87 L465.26,326.04 L465.97,326.21 L466.68,326.38 L467.39,326.54 L468.10,326.70 L468.80,326.86 L469.51,327.02 L470.22,327.17 L470.93,327.32 L471.64,327.47 L472.35,327.61 L473.06,327.76 L473.76,327.90 L474.47,328.04 L475.18,328.17 L475.89,328.31 L476.60,328.44 L477.31,328.57 L478.02,328.69 L478.73,328.82 L479.44,328.94 L480.14,329.06 L480.85,329.18 L481.56,329.30 L482.27,329.42 L482.98,329.53 L483.69,329.64 L484.40,329.75 L485.11,329.86 L485.81,329.96 L486.52,330.07 L487.23,330.17 L487.94,330.27 L488.65,330.37 L489.36,330.47 L490.07,330.56 L490.78,330.66 L491.48,330.75 L492.19,330.84 L492.90,330.93 L493.61,331.02 L494.32,331.11 L495.03,331.19 L495.74,331.28 L496.45,331.36 L497.15,331.44 L497.86,331.52 L498.57,331.60 L499.28,331.68 L499.99,331.76 L500.70,331.83 L501.41,331.91 L502.12,331.98 L502.82,332.05 L503.53,332.12 L504.24,332.19 L504.95,332.26 L505.66,332.33 L506.37,332.39 L507.08,332.46 L507.79,332.52 L508.49,332.59 L509.20,332.65 L509.91,332.71 L510.62,332.77 L511.33,332.83 L512.04,332.89 L512.75,332.94 L513.46,333.00 L514.16,333.05 L514.87,333.11 L515.58,333.16 L516.29,333.21 L517.00,333.27 L517.71,333.32 L518.42,333.37 L519.12,333.42 L519.83,333.47 L520.54,333.51 L521.25,333.56 L521.96,333.61 L522.67,333.65 L523.38,333.70 L524.09,333.74 L524.80,333.78 L525.50,333.83 L526.21,333.87" stroke="#e00000" stroke-width="2.5"/>
<path d="M93.88,332.79 L94.58,332.78 L95.29,332.77 L96.00,332.76 L96.71,332.75 L97.42,332.73 L98.13,332.72 L98.84,332.71 L99.55,332.69 L100.25,332.68 L100.96,332.67 L101.67,332.65 L102.38,332.64 L103.09,332.62 L103.80,332.60 L104.51,332.58 L105.22,332.57 L105.92,332.55 L106.63,332.53 L107.34,332.51 L108.05,332.49 L108.76,332.47 L109.47,332.45 L110.18,332.43 L110.89,332.41 L111.59,332.38 L112.30,332.36 L113.01,332.34 L113.72,332.31 L114.43,332.29 L115.14,332.26 L115.85,332.23 L116.56,332.21 L117.26,332.18 L117.97,332.15 L118.68,332.12 L119.39,332.09 L120.10,332.06 L120.81,332.03 L121.52,332.00 L122.23,331.97 L122.93,331.94 L123.64,331.90 L124.35,331.87 L125.06,331.84 L125.77,331.80 L126.48,331.77 L127.19,331.73 L127.90,331.69 L128.60,331.65 L129.31,331.62 L130.02,331.58 L130.73,331.54 L131.44,331.50 L132.15,331.45 L132.86,331.41 L133.57,331.37 L134.27,331.33 L134.98,331.28 L135.69,331.24 L136.40,331.19 L137.11,331.14 L137.82,331.10 L138.53,331.05 L139.24,331.00 L139.94,330.95 L140.65,330.90 L141.36,330.85 L142.07,330.79 L142.78,330.74 L143.49,330.69 L144.20,330.63 L144.91,330.57 L145.61,330.52 L146.32,330.46 L147.03,330.40 L147.74,330.34 L148.45,330.28 L149.16,330.22 L149.87,330.16 L150.58,330.09 L151.28,330.03 L151.99,329.96 L152.70,329.90 L153.41,329.83 L154.12,329.76 L154.83,329.69 L155.54,329.62 L156.25,329.55 L156.95,329.47 L157.66,329.40 L158.37,329.32 L159.08,329.25 L159.79,329.17 L160.50,329.09 L161.21,329.01 L161.92,328.93 L162.62,328.84 L163.33,328.76 L164.04,328.67 L164.75,328.59 L165.46,328.50 L166.17,328.41 L166.88,328.32 L167.59,328.23 L168.29,328.13 L169.00,328.04 L169.71,327.94 L170.42,327.84 L171.13,327.74 L171.84,327.64 L172.55,327.54 L173.26,327.44 L173.96,327.33 L174.67,327.22 L175.38,327.11 L176.09,327.00 L176.80,326.89 L177.51,326.78 L178.22,326.66 L178.93,326.54 L179.63,326.42 L180.34,326.30 L181.05,326.18 L181.76,326.05 L182.47,325.93 L183.18,325.80 L183.89,325.67 L184.60,325.53 L185.30,325.40 L186.01,325.26 L186.72,325.12 L187.43,324.98 L188.14,324.83 L188.85,324.69 L189.56,324.54 L190.27,324.39 L190.97,324.23 L191.68,324.08 L192.39,323.92 L193.10,323.76 L193.81,323.59 L194.52,323.43 L195.23,323.26 L195.94,323.09 L196.64,322.91 L197.35,322.74 L198.06,322.56 L198.77,322.37 L199.48,322.19 L200.19,322.00 L200.90,321.80 L201.61,321.61 L202.31,321.41 L203.02,321.21 L203.73,321.00 L204.44,320.79 L205.15,320.58 L205.86,320.37 L206.57,320.15 L207.28,319.92 L207.98,319.70 L208.69,319.46 L209.40,319.23 L210.11,318.99 L210.82,318.75 L211.53,318.50 L212.24,318.25 L212.95,317.99 L213.65,317.73 L214.36,317.47 L215.07,317.20 L215.78,316.92 L216.49,316.64 L217.20,316.36 L217.91,316.07 L218.62,315.77 L219.32,315.47 L220.03,315.17 L220.74,314.86 L221.45,314.54 L222.16,314.22 L222.87,313.89 L223.58,313.56 L224.29,313.22 L224.99,312.87 L225.70,312.52 L226.41,312.16 L227.12,311.79 L227.83,311.42 L228.54,311.03 L229.25,310.65 L229.96,310.25 L230.66,309.85 L231.37,309.44 L232.08,309.02 L232.79,308.59 L233.50,308.16 L234.21,307.71 L234.92,307.26 L235.63,306.80 L236.33,306.33 L237.04,305.85 L237.75,305.36 L238.46,304.86 L239.17,304.35 L239.88,303.83 L240.59,303.30 L241.30,302.76 L242.00,302.21 L242.71,301.65 L243.42,301.08 L244.13,300.49 L244.84,299.89 L245.55,299.28 L246.26,298.66 L246.97,298.02 L247.67,297.37 L248.38,296.71 L249.09,296.03 L249.80,295.34 L250.51,294.63 L251.22,293.91 L251.93,293.17 L252.64,292.42 L253.34,291.65 L254.05,290.86 L254.76,290.06 L255.47,289.24 L256.18,288.40 L256.89,287.54 L257.60,286.66 L258.31,285.77 L259.01,284.86 L259.72,283.92 L260.43,282.97 L261.14,281.99 L261.85,280.99 L262.56,279.97 L263.27,278.93 L263.98,277.86 L264.68,276.77 L265.39,275.66 L266.10,274.52 L266.81,273.36 L267.52,272.17 L268.23,270.95 L268.94,269.71 L269.65,268.44 L270.35,267.14 L271.06,265.81 L271.77,264.45 L272.48,263.06 L273.19,261.65 L273.90,260.20 L274.61,258.72 L275.32,257.20 L276.02,255.66 L276.73,254.08 L277.44,252.47 L278.15,250.82 L278.86,249.14 L279.57,247.42 L280.28,245.67 L280.99,243.87 L281.69,242.05 L282.40,240.18 L283.11,238.28 L283.82,236.34 L284.53,234.36 L285.24,232.34 L285.95,230.28 L286.66,228.18 L287.36,226.05 L288.07,223.87 L288.78,221.65 L289.49,219.40 L290.20,217.10 L290.91,214.77 L291.62,212.39 L292.33,209.98 L293.03,207.53 L293.74,205.04 L294.45,202.51 L295.16,199.95 L295.87,197.35 L296.58,194.71 L297.29,192.04 L298.00,189.34 L298.70,186.60 L299.41,183.84 L300.12,181.04 L300.83,178.22 L301.54,175.38 L302.25,172.51 L302.96,169.62 L303.67,166.71 L304.37,163.78 L305.08,160.84 L305.79,157.89 L306.50,154.93 L307.21,151.96 L307.92,148.99 L308.63,146.03 L309.34,143.06 L310.04,140.11 L310.75,137.17 L311.46,134.24 L312.17,131.34 L312.88,128.46 L313.59,125.61 L314.30,122.79 L315.00,120.00 L315.71,117.26 L316.42,114.57 L317.13,111.93 L317.84,109.34 L318.55,106.81 L319.26,104.35 L319.97,101.96 L320.68,99.64 L321.38,97.41 L322.09,95.25 L322.80,93.18 L323.51,91.21 L324.22,89.33 L324.93,87.55 L325.64,85.88 L326.35,84.32 L327.05,82.86 L327.76,81.52 L328.47,80.30 L329.18,79.20 L329.89,78.23 L330.60,77.37 L331.31,76.65 L332.02,76.06 L332.72,75.59 L333.43,75.26 L334.14,75.06 L334.85,74.99 L335.56,75.08 L336.27,75.33 L336.98,75.75 L337.69,76.33 L338.39,77.08 L339.10,77.99 L339.81,79.05 L340.52,80.27 L341.23,81.64 L341.94,83.16 L342.65,84.81 L343.36,86.60 L344.06,88.52 L344.77,90.56 L345.48,92.72 L346.19,94.98 L346.90,97.35 L347.61,99.82 L348.32,102.38 L349.03,105.02 L349.73,107.74 L350.44,110.52 L351.15,113.37 L351.86,116.28 L352.57,119.23 L353.28,122.23 L353.99,125.26 L354.70,128.33 L355.40,131.42 L356.11,134.53 L356.82,137.66 L357.53,140.79 L358.24,143.93 L358.95,147.07 L359.66,150.20 L360.37,153.33 L361.07,156.45 L361.78,159.55 L362.49,162.63 L363.20,165.69 L363.91,168.73 L364.62,171.74 L365.33,174.72 L366.04,177.67 L366.74,180.58 L367.45,183.47 L368.16,186.31 L368.87,189.12 L369.58,191.89 L370.29,194.62 L371.00,197.31 L371.71,199.96 L372.41,202.57 L373.12,205.14 L373.83,207.66 L374.54,210.15 L375.25,212.59 L375.96,214.98 L376.67,217.34 L377.38,219.65 L378.08,221.92 L378.79,224.15 L379.50,226.33 L380.21,228.47 L380.92,230.58 L381.63,232.64 L382.34,234.66 L383.05,236.64 L383.75,238.59 L384.46,240.49 L385.17,242.36 L385.88,244.19 L386.59,245.98 L387.30,247.73 L388.01,249.45 L388.72,251.14 L389.42,252.78 L390.13,254.40 L390.84,255.98 L391.55,257.53 L392.26,259.05 L392.97,260.53 L393.68,261.98 L394.38,263.41 L395.09,264.80 L395.80,266.16 L396.51,267.50 L397.22,268.81 L397.93,270.09 L398.64,271.34 L399.35,272.57 L400.06,273.77 L400.76,274.94 L401.47,276.09 L402.18,277.22 L402.89,278.32 L403.60,279.40 L404.31,280.46 L405.02,281.49 L405.73,282.50 L406.43,283.49 L407.14,284.46 L407.85,285.41 L408.56,286.34 L409.27,287.25 L409.98,288.15 L410.69,289.02 L411.40,289.87 L412.10,290.71 L412.81,291.53 L413.52,292.33 L414.23,293.12 L414.94,293.88 L415.65,294.64 L416.36,295.37 L417.07,296.10 L417.77,296.80 L418.48,297.49 L419.19,298.17 L419.90,298.84 L420.61,299.49 L421.32,300.12 L422.03,300.75 L422.74,301.36 L423.44,301.96 L424.15,302.54 L424.86,303.12 L425.57,303.68 L426.28,304.23 L426.99,304.77 L427.70,305.30 L428.41,305.82 L429.11,306.32 L429.82,306.82 L430.53,307.31 L431.24,307.79 L431.95,308.25 L432.66,308.71 L433.37,309.16 L434.08,309.60 L434.78,310.03 L435.49,310.46 L436.20,310.87 L436.91,311.28 L437.62,311.68 L438.33,312.07 L439.04,312.45 L439.75,312.82 L440.45,313.19 L441.16,313.55 L441.87,313.90 L442.58,314.25 L443.29,314.59 L444.00,314.92 L444.71,315.25 L445.42,315.57 L446.12,315.89 L446.83,316.19 L447.54,316.50 L448.25,316.79 L448.96,317.08 L449.67,317.37 L450.38,317.65 L451.09,317.92 L451.79,318.19 L452.50,318.45 L453.21,318.71 L453.92,318.97 L454.63,319.22 L455.34,319.46 L456.05,319.70 L456.75,319.94 L457.46,320.17 L458.17,320.39 L458.88,320.62 L459.59,320.83 L460.30,321.05 L461.01,321.26 L461.72,321.47 L462.43,321.67 L463.13,321.87 L463.84,322.06 L464.55,322.25 L465.26,322.44 L465.97,322.63 L466.68,322.81 L467.39,322.99 L468.10,323.16 L468.80,323.33 L469.51,323.50 L470.22,323.67 L470.93,323.83 L471.64,323.99 L472.35,324.14 L473.06,324.30 L473.76,324.45 L474.47,324.60 L475.18,324.74 L475.89,324.89 L476.60,325.03 L477.31,325.16 L478.02,325.30 L478.73,325.43 L479.44,325.56 L480.14,325.69 L480.85,325.82 L481.56,325.94 L482.27,326.06 L482.98,326.18 L483.69,326.30 L484.40,326.42 L485.11,326.53 L485.81,326.64 L486.52,326.75 L487.23,326.86 L487.94,326.97 L488.65,327.07 L489.36,327.17 L490.07,327.27 L490.78,327.37 L491.48,327.47 L492.19,327.56 L492.90,327.66 L493.61,327.75 L494.32,327.84 L495.03,327.93 L495.74,328.02 L496.45,328.10 L497.15,328.19 L497.86,328.27 L498.57,328.35 L499.28,328.43 L499.99,328.51 L500.70,328.59 L501.41,328.66 L502.12,328.74 L502.82,328.81 L503.53,328.88 L504.24,328.96 L504.95,329.03 L505.66,329.09 L506.37,329.16 L507.08,329.23 L507.79,329.29 L508.49,329.36 L509.20,329.42 L509.91,329.48 L510.62,329.54 L511.33,329.60 L512.04,329.66 L512.75,329.72 L513.46,329.78 L514.16,329.83 L514.87,329.89 L515.58,329.94 L516.29,329.99 L517.00,330.05 L517.71,330.10 L518.42,330.15 L519.12,330.20 L519.83,330.25 L520.54,330.29 L521.25,330.34 L521.96,330.39 L522.67,330.43 L523.38,330.48 L524.09,330.52 L524.80,330.56 L525.50,330.61 L526.21,330.65" stroke="#0000e6" stroke-width="2.5" stroke-dasharray="7.3,3.2" stroke-dashoffset="9.12" stroke-linecap="butt"/>
</g>
<path d="M79.4,13.8V345.3H590V13.8Z" fill="none" stroke="#111" stroke-width="1.5"/>
<path d="M65,13.8H590" stroke="#111" stroke-width="1.8" fill="none"/>
<path d="M65,345.30H79.5 M65,289.97H79.5 M65,234.63H79.5 M65,179.30H79.5 M65,123.96H79.5 M65,68.63H79.5 M72,317.63H79.5 M72,262.30H79.5 M72,206.97H79.5 M72,151.63H79.5 M72,96.30H79.5 M72,40.96H79.5 M79.70,345.3V360.2 M207.28,345.3V360.2 M334.85,345.3V360.2 M462.43,345.3V360.2 M590.00,345.3V360.2 M143.49,345.3V351.5 M271.06,345.3V351.5 M398.64,345.3V351.5 M526.21,345.3V351.5" stroke="#000" stroke-width="1.6" fill="none"/>
<g font-family="Liberation Serif, serif" font-weight="bold" font-size="20" fill="#000">
<text x="60" y="351.90" text-anchor="end">0.0</text>
<text x="60" y="296.57" text-anchor="end">0.2</text>
<text x="60" y="241.23" text-anchor="end">0.4</text>
<text x="60" y="185.90" text-anchor="end">0.6</text>
<text x="60" y="130.56" text-anchor="end">0.8</text>
<text x="60" y="75.23" text-anchor="end">1.0</text>
<text x="60" y="19.90" text-anchor="end">1.2</text>
<text x="79.70" y="376.8" text-anchor="middle">-180</text>
<text x="207.28" y="376.8" text-anchor="middle">-90</text>
<text x="334.85" y="376.8" text-anchor="middle">0</text>
<text x="462.43" y="376.8" text-anchor="middle">90</text>
<text x="590.00" y="376.8" text-anchor="middle">180</text>
</g>
<text x="335" y="404.5" text-anchor="middle" font-family="Liberation Serif, serif" font-weight="bold" font-size="21.5">CAD</text>
<text transform="translate(21.7,179.9) rotate(-90)" text-anchor="middle" font-family="Liberation Serif, serif" font-weight="bold" font-size="21.8">Pressure [Mpa]</text>
<rect x="305.6" y="55" width="57.5" height="55.2" fill="none" stroke="#000" stroke-width="2"/>
<path d="M305.6,110.2L275,134.2M279,128.4L275,134.2L283.6,133.3" fill="none" stroke="#000" stroke-width="2.1" stroke-linecap="round" stroke-linejoin="round"/>
<rect x="369.5" y="21.6" width="213" height="112.1" rx="3" fill="#fff" fill-opacity="0.8" stroke="#e0e0e0" stroke-width="1"/>
<path d="M373,32.8H406.6" stroke="#bfbf00" stroke-width="3.6"/>
<path d="M373,54.2H406.6" stroke="#000" stroke-width="3.6"/>
<path d="M373.6,76.2H406.4" stroke="#117a11" stroke-width="3"/>
<path d="M373.6,98.0H406.4" stroke="#b3302f" stroke-width="2"/>
<path d="M375,119.8H404" stroke="#18188f" stroke-width="2.1" stroke-dasharray="7.2,3.5"/>
<g font-family="Liberation Sans, sans-serif" font-size="15.2" fill="#262626">
<text x="417.2" y="38.00" textLength="159.2" lengthAdjust="spacingAndGlyphs">Without heat transfer</text>
<text x="417.4" y="59.40" textLength="118.5" lengthAdjust="spacingAndGlyphs">Annand's model</text>
<text x="417.4" y="81.50" textLength="143.4" lengthAdjust="spacingAndGlyphs">Hohenberg's model</text>
<text x="417.4" y="103.20" textLength="119.0" lengthAdjust="spacingAndGlyphs">Woshnii's model</text>
<text x="417.3" y="125.10" textLength="111.0" lengthAdjust="spacingAndGlyphs">CFD calculated</text>
</g>
<rect x="87" y="134.5" width="187" height="122" fill="#fff"/>
<path d="M111.5,196.60H267.1 M111.5,156.50H267.1 M150.40,136.5V236.6 M189.30,136.5V236.6 M228.20,136.5V236.6" stroke="#ececec" stroke-width="0.8" fill="none"/>
<g fill="none" stroke-linejoin="round">
<path d="M111.50,218.38 L113.45,216.30 L115.39,214.18 L117.34,212.05 L119.28,209.89 L121.23,207.72 L123.17,205.55 L125.12,203.36 L127.06,201.17 L129.00,198.99 L130.95,196.80 L132.90,194.63 L134.84,192.46 L136.79,190.31 L138.73,188.18 L140.68,186.08 L142.62,184.00 L144.56,181.95 L146.51,179.93 L148.46,177.95 L150.40,176.01 L152.35,174.12 L154.29,172.28 L156.24,170.50 L158.18,168.79 L160.12,167.15 L162.07,165.60 L164.02,164.13 L165.96,162.77 L167.91,161.51 L169.85,160.37 L171.80,159.35 L173.74,158.45 L175.69,157.66 L177.63,156.99 L179.58,156.43 L181.52,155.98 L183.47,155.64 L185.41,155.40 L187.36,155.26 L189.30,155.22 L191.25,155.28 L193.19,155.44 L195.14,155.70 L197.08,156.05 L199.03,156.51 L200.97,157.07 L202.92,157.74 L204.86,158.51 L206.81,159.39 L208.75,160.37 L210.70,161.46 L212.64,162.66 L214.59,163.96 L216.53,165.37 L218.48,166.87 L220.42,168.48 L222.37,170.17 L224.31,171.96 L226.25,173.84 L228.20,175.81 L230.15,177.87 L232.09,180.00 L234.04,182.20 L235.98,184.45 L237.93,186.75 L239.87,189.08 L241.81,191.44 L243.76,193.82 L245.71,196.20 L247.65,198.58 L249.60,200.95 L251.54,203.29 L253.49,205.60 L255.43,207.86 L257.38,210.07 L259.32,212.22 L261.26,214.29 L263.21,216.28 L265.16,218.18 L267.10,219.97" stroke="#c8c800" stroke-width="2.2"/>
<path d="M111.50,221.75 L113.45,220.04 L115.39,218.23 L117.34,216.33 L119.28,214.35 L121.23,212.30 L123.17,210.19 L125.12,208.03 L127.06,205.83 L129.00,203.60 L130.95,201.36 L132.90,199.10 L134.84,196.85 L136.79,194.61 L138.73,192.39 L140.68,190.21 L142.62,188.07 L144.56,185.99 L146.51,183.97 L148.46,182.03 L150.40,180.17 L152.35,178.41 L154.29,176.74 L156.24,175.16 L158.18,173.68 L160.12,172.29 L162.07,171.00 L164.02,169.79 L165.96,168.67 L167.91,167.65 L169.85,166.71 L171.80,165.85 L173.74,165.09 L175.69,164.43 L177.63,163.86 L179.58,163.39 L181.52,163.04 L183.47,162.79 L185.41,162.65 L187.36,162.64 L189.30,162.75 L191.25,162.98 L193.19,163.33 L195.14,163.79 L197.08,164.35 L199.03,165.01 L200.97,165.76 L202.92,166.58 L204.86,167.49 L206.81,168.45 L208.75,169.48 L210.70,170.56 L212.64,171.69 L214.59,172.89 L216.53,174.15 L218.48,175.49 L220.42,176.92 L222.37,178.42 L224.31,180.03 L226.25,181.73 L228.20,183.54 L230.15,185.45 L232.09,187.47 L234.04,189.57 L235.98,191.75 L237.93,193.99 L239.87,196.28 L241.81,198.61 L243.76,200.97 L245.71,203.34 L247.65,205.71 L249.60,208.08 L251.54,210.42 L253.49,212.72 L255.43,214.99 L257.38,217.19 L259.32,219.32 L261.26,221.37 L263.21,223.32 L265.16,225.17 L267.10,226.90" stroke="#000" stroke-width="2.4"/>
<path d="M111.50,221.75 L113.45,220.04 L115.39,218.23 L117.34,216.33 L119.28,214.35 L121.23,212.30 L123.17,210.19 L125.12,208.03 L127.06,205.83 L129.00,203.60 L130.95,201.36 L132.90,199.10 L134.84,196.85 L136.79,194.61 L138.73,192.39 L140.68,190.21 L142.62,188.07 L144.56,185.99 L146.51,183.97 L148.46,182.03 L150.40,180.17 L152.35,178.41 L154.29,176.74 L156.24,175.16 L158.18,173.68 L160.12,172.29 L162.07,171.00 L164.02,169.79 L165.96,168.67 L167.91,167.65 L169.85,166.71 L171.80,165.85 L173.74,165.09 L175.69,164.43 L177.63,163.86 L179.58,163.39 L181.52,163.04 L183.47,162.79 L185.41,162.65 L187.36,162.64 L189.30,162.75 L191.25,162.98 L193.19,163.33 L195.14,163.79 L197.08,164.35 L199.03,165.01 L200.97,165.76 L202.92,166.58 L204.86,167.49 L206.81,168.45 L208.75,169.48 L210.70,170.56 L212.64,171.69 L214.59,172.89 L216.53,174.15 L218.48,175.49 L220.42,176.92 L222.37,178.42 L224.31,180.03 L226.25,181.73 L228.20,183.54 L230.15,185.45 L232.09,187.47 L234.04,189.57 L235.98,191.75 L237.93,193.99 L239.87,196.28 L241.81,198.61 L243.76,200.97 L245.71,203.34 L247.65,205.71 L249.60,208.08 L251.54,210.42 L253.49,212.72 L255.43,214.99 L257.38,217.19 L259.32,219.32 L261.26,221.37 L263.21,223.32 L265.16,225.17 L267.10,226.90" stroke="#008000" stroke-width="2.5"/>
<path d="M111.50,222.34 L113.45,220.62 L115.39,218.80 L117.34,216.89 L119.28,214.91 L121.23,212.86 L123.17,210.75 L125.12,208.60 L127.06,206.41 L129.00,204.19 L130.95,201.95 L132.90,199.71 L134.84,197.46 L136.79,195.23 L138.73,193.02 L140.68,190.84 L142.62,188.71 L144.56,186.62 L146.51,184.59 L148.46,182.64 L150.40,180.76 L152.35,178.98 L154.29,177.28 L156.24,175.68 L158.18,174.18 L160.12,172.77 L162.07,171.47 L164.02,170.27 L165.96,169.17 L167.91,168.18 L169.85,167.30 L171.80,166.53 L173.74,165.87 L175.69,165.32 L177.63,164.87 L179.58,164.53 L181.52,164.29 L183.47,164.15 L185.41,164.11 L187.36,164.17 L189.30,164.33 L191.25,164.58 L193.19,164.92 L195.14,165.36 L197.08,165.88 L199.03,166.48 L200.97,167.16 L202.92,167.93 L204.86,168.77 L206.81,169.68 L208.75,170.67 L210.70,171.72 L212.64,172.85 L214.59,174.05 L216.53,175.33 L218.48,176.70 L220.42,178.15 L222.37,179.70 L224.31,181.34 L226.25,183.08 L228.20,184.92 L230.15,186.87 L232.09,188.92 L234.04,191.05 L235.98,193.25 L237.93,195.53 L239.87,197.85 L241.81,200.22 L243.76,202.63 L245.71,205.05 L247.65,207.49 L249.60,209.94 L251.54,212.37 L253.49,214.78 L255.43,217.17 L257.38,219.51 L259.32,221.81 L261.26,224.04 L263.21,226.20 L265.16,228.28 L267.10,230.26" stroke="#ff0000" stroke-width="2.5"/>
<path d="M111.50,220.17 L113.45,218.34 L115.39,216.44 L117.34,214.46 L119.28,212.42 L121.23,210.33 L123.17,208.19 L125.12,206.02 L127.06,203.82 L129.00,201.60 L130.95,199.38 L132.90,197.15 L134.84,194.93 L136.79,192.73 L138.73,190.56 L140.68,188.42 L142.62,186.33 L144.56,184.29 L146.51,182.32 L148.46,180.41 L150.40,178.59 L152.35,176.85 L154.29,175.20 L156.24,173.64 L158.18,172.17 L160.12,170.78 L162.07,169.48 L164.02,168.26 L165.96,167.13 L167.91,166.09 L169.85,165.12 L171.80,164.24 L173.74,163.45 L175.69,162.75 L177.63,162.14 L179.58,161.64 L181.52,161.24 L183.47,160.94 L185.41,160.76 L187.36,160.70 L189.30,160.77 L191.25,160.95 L193.19,161.26 L195.14,161.68 L197.08,162.21 L199.03,162.84 L200.97,163.57 L202.92,164.38 L204.86,165.28 L206.81,166.25 L208.75,167.30 L210.70,168.41 L212.64,169.59 L214.59,170.84 L216.53,172.17 L218.48,173.58 L220.42,175.07 L222.37,176.65 L224.31,178.32 L226.25,180.09 L228.20,181.95 L230.15,183.92 L232.09,185.98 L234.04,188.11 L235.98,190.31 L237.93,192.56 L239.87,194.85 L241.81,197.17 L243.76,199.49 L245.71,201.82 L247.65,204.13 L249.60,206.41 L251.54,208.65 L253.49,210.84 L255.43,212.96 L257.38,215.00 L259.32,216.94 L261.26,218.78 L263.21,220.50 L265.16,222.09 L267.10,223.53" stroke="#0000ff" stroke-width="2.6" stroke-dasharray="8.8,3.4"/>
</g>
<path d="M111.5,136.5H267.1V236.6H111.5Z" fill="none" stroke="#959595" stroke-width="1.5"/>
<path d="M107.5,236.70H111.4 M107.5,196.60H111.4 M107.5,156.50H111.4 M109.5,216.65H111.4 M109.5,176.55H111.4 M111.50,236.6V242 M150.40,236.6V242 M189.30,236.6V242 M228.20,236.6V242 M267.10,236.6V242 M130.95,236.6V239 M169.85,236.6V239 M208.75,236.6V239 M247.65,236.6V239" stroke="#444" stroke-width="1" fill="none"/>
<g font-family="Liberation Serif, serif" font-weight="bold" font-size="12.1" fill="#000">
<text x="106.2" y="240.30" text-anchor="end">0.6</text>
<text x="106.2" y="200.20" text-anchor="end">0.8</text>
<text x="106.2" y="160.10" text-anchor="end">1.0</text>
<text x="111.50" y="250.6" text-anchor="middle">-20</text>
<text x="150.40" y="250.6" text-anchor="middle">-10</text>
<text x="189.30" y="250.6" text-anchor="middle">0</text>
<text x="228.20" y="250.6" text-anchor="middle">10</text>
<text x="267.10" y="250.6" text-anchor="middle">20</text>
</g>
</svg></body></html>
